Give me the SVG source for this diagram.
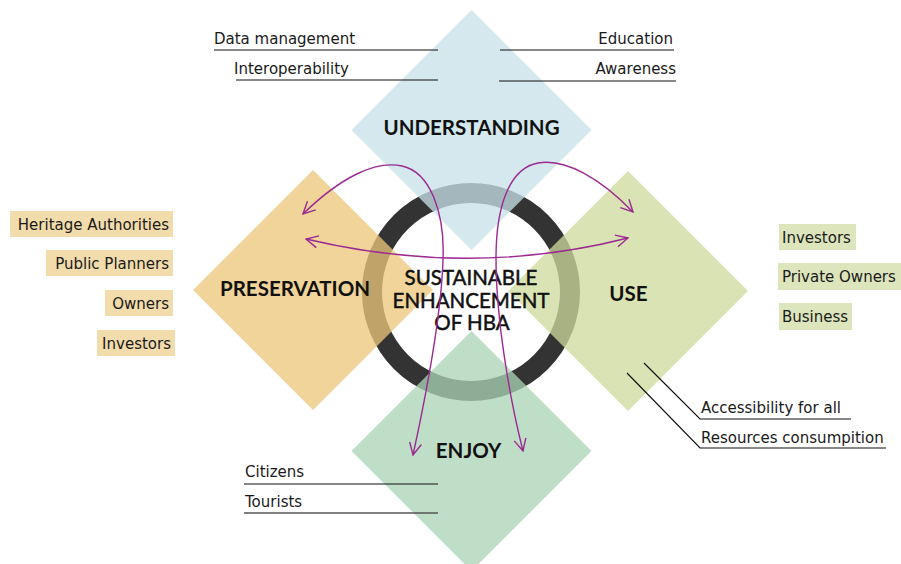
<svg xmlns="http://www.w3.org/2000/svg" width="901" height="564" viewBox="0 0 901 564">
<defs>
<style>
.lbl{font-family:"DejaVu Sans",Verdana,sans-serif;font-size:15px;fill:#1a1a1a}
.hd{font-family:Lato,"DejaVu Sans",sans-serif;font-size:20.5px;font-weight:bold;fill:#111;text-anchor:middle}
.ctr{font-family:Lato,"DejaVu Sans",sans-serif;font-size:20.5px;fill:#111;stroke:#111;stroke-width:0.5;text-anchor:middle}
.ln{stroke:#111;stroke-width:1.2;fill:none}
.arr{stroke:#9b2a91;stroke-width:1.4;fill:none;marker-start:url(#ah);marker-end:url(#ah)}
.boxo{fill:#f3dcab}
.boxg{fill:#dde5bc}
</style>
<marker id="ah" viewBox="0 0 14 14" refX="13" refY="7" markerWidth="14" markerHeight="14" markerUnits="userSpaceOnUse" orient="auto-start-reverse">
<polyline points="1,1 13,7 1,13" fill="none" stroke="#9b2a91" stroke-width="1.4"/>
</marker>
</defs>
<rect width="901" height="564" fill="#ffffff"/>

<g id="ring">
<circle cx="471" cy="292" r="99" fill="none" stroke="#333333" stroke-width="20"/>
</g>

<g id="understanding">
<polygon points="471.5,10 591.5,130 471.5,250 351.5,130" fill="#c7e1e8" fill-opacity="0.76"/>
<text class="hd" x="471.5" y="134.5">UNDERSTANDING</text>
</g>
<g id="preservation">
<polygon points="313,170 433,290 313,410 193,290" fill="#ebc77a" fill-opacity="0.76"/>
<text class="hd" x="295" y="295.5">PRESERVATION</text>
</g>
<g id="use">
<polygon points="628,171 748,291 628,411 508,291" fill="#cfda9b" fill-opacity="0.76"/>
<text class="hd" x="628.5" y="300.5">USE</text>
</g>
<g id="enjoy">
<polygon points="471.5,331 591.5,451 471.5,571 351.5,451" fill="#abd3b6" fill-opacity="0.76"/>
<text class="hd" x="468.5" y="457.5">ENJOY</text>
</g>

<g id="center">
<text class="ctr" x="471" y="285">SUSTAINABLE</text>
<text class="ctr" x="471" y="307.5">ENHANCEMENT</text>
<text class="ctr" x="472" y="330">OF HBA</text>
</g>

<g id="connectors">
<path class="arr" d="M303,214 C340,178 375,160 402,166 C430,172 445,212 443,260 C441,320 425,400 413,455"/>
<path class="arr" d="M633,212 C600,178 565,158 538,163 C510,168 496,205 496,258 C496,320 510,400 523,451"/>
<path class="arr" d="M306,239 Q471,278 628,238"/>
</g>

<g id="understanding-labels">
<text class="lbl" x="214" y="44">Data management</text>
<line class="ln" x1="214" y1="50" x2="438" y2="50"/>
<text class="lbl" x="234" y="74">Interoperability</text>
<line class="ln" x1="236" y1="80" x2="438" y2="80"/>
<text class="lbl" x="673" y="44" text-anchor="end">Education</text>
<line class="ln" x1="500" y1="50" x2="674" y2="50"/>
<text class="lbl" x="676" y="74" text-anchor="end">Awareness</text>
<line class="ln" x1="499" y1="81" x2="676" y2="81"/>
</g>

<g id="preservation-labels">
<rect class="boxo" x="10" y="211" width="163" height="26"/>
<text class="lbl" x="169" y="229.5" text-anchor="end">Heritage Authorities</text>
<rect class="boxo" x="46" y="250" width="127" height="26"/>
<text class="lbl" x="169" y="268.5" text-anchor="end">Public Planners</text>
<rect class="boxo" x="105" y="290" width="68" height="26"/>
<text class="lbl" x="169" y="308.5" text-anchor="end">Owners</text>
<rect class="boxo" x="97" y="330" width="78" height="26"/>
<text class="lbl" x="171" y="348.5" text-anchor="end">Investors</text>
</g>

<g id="use-labels">
<rect class="boxg" x="779" y="224" width="77" height="26"/>
<text class="lbl" x="782" y="242.5">Investors</text>
<rect class="boxg" x="778" y="263" width="123" height="27"/>
<text class="lbl" x="782" y="282">Private Owners</text>
<rect class="boxg" x="779" y="303" width="73" height="27"/>
<text class="lbl" x="782" y="322">Business</text>
<polyline class="ln" points="644,363 700,419 851,419"/>
<text class="lbl" x="701" y="413">Accessibility for all</text>
<polyline class="ln" points="627,373 700,448 886,448"/>
<text class="lbl" x="701" y="443">Resources consumpition</text>
</g>

<g id="enjoy-labels">
<text class="lbl" x="245" y="477">Citizens</text>
<line class="ln" x1="244" y1="484" x2="438" y2="484"/>
<text class="lbl" x="245" y="507">Tourists</text>
<line x1="244" y1="513" x2="438" y2="513" stroke="#555" stroke-width="1.5"/>
</g>
</svg>
